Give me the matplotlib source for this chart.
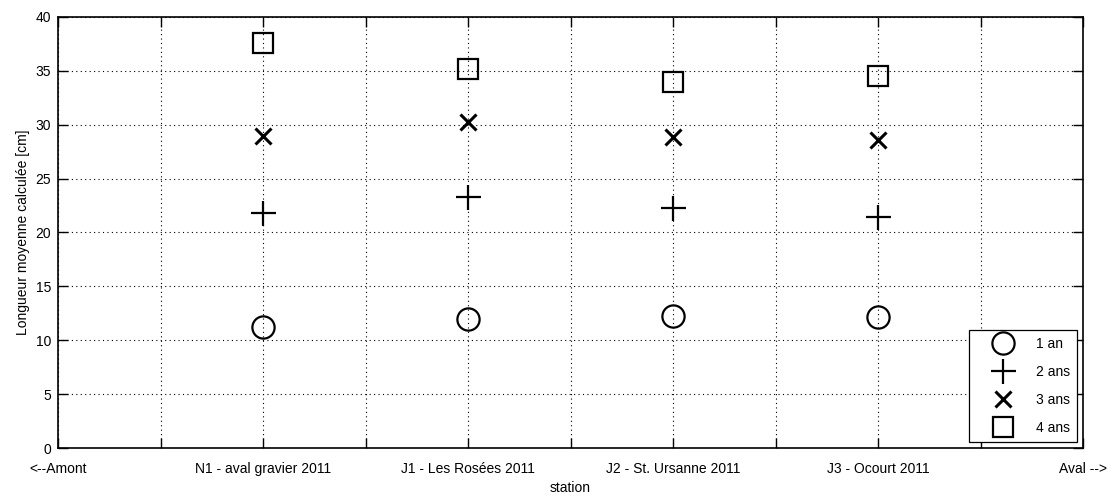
import matplotlib
matplotlib.use("Agg")
import matplotlib.pyplot as plt

# Data
stations = ["N1 - aval gravier 2011", "J1 - Les Rosées 2011",
            "J2 - St. Ursanne 2011", "J3 - Ocourt 2011"]
station_pos = [2, 4, 6, 8]
age_1 = [11.25, 12.0, 12.25, 12.15]
age_2 = [21.8, 23.3, 22.3, 21.4]
age_3 = [29.0, 30.3, 28.9, 28.6]
age_4 = [37.6, 35.2, 33.95, 34.5]
tick_labels = ["<--Amont", "", stations[0], "", stations[1], "",
               stations[2], "", stations[3], "", "Aval -->"]

plt.rcParams['font.family'] = ['Liberation Sans', 'DejaVu Sans']
plt.rcParams['font.size'] = 10

fig = plt.figure(figsize=(11.15, 4.98), dpi=100)
ax = fig.add_axes([58 / 1115, 1 - 448 / 498, 1025 / 1115, 431 / 498])

ax.plot(station_pos, age_1, linestyle='none', marker='o', ms=16, mfc='none',
        mec='black', mew=1.6, label='1 an')
ax.plot(station_pos, age_2, linestyle='none', marker='+', ms=18,
        mec='black', mew=1.6, label='2 ans')
ax.plot(station_pos, age_3, linestyle='none', marker='x', ms=12,
        mec='black', mew=2.2, label='3 ans')
ax.plot(station_pos, age_4, linestyle='none', marker='s', ms=15, mfc='none',
        mec='black', mew=1.6, label='4 ans')

ax.set_xlim(0, 10)
ax.set_ylim(0, 40)
ax.set_xticks(range(11))
ax.set_xticklabels(tick_labels)
ax.set_yticks(range(0, 41, 5))
ax.tick_params(direction='in', top=True, right=True, length=7, width=1,
               labelsize=10)
ax.tick_params(axis='x', pad=10)
ax.tick_params(axis='y', pad=5)
ax.grid(True, color='black', linestyle=(0, (1, 3)), linewidth=0.8)
for s in ax.spines.values():
    s.set_linewidth(1.2)

ax.set_xlabel("station", fontsize=10, labelpad=4)
ax.set_ylabel("Longueur moyenne calculée [cm]", fontsize=10, labelpad=4)

leg = ax.legend(loc='lower right', bbox_to_anchor=(0.994, 0.014),
                borderaxespad=0, fancybox=False, edgecolor='black',
                framealpha=1, fontsize=10, handletextpad=0.4,
                labelspacing=1.0, borderpad=0.5, handlelength=3.9)
leg.get_frame().set_linewidth(0.9)

fig.savefig("out.png", dpi=100)
